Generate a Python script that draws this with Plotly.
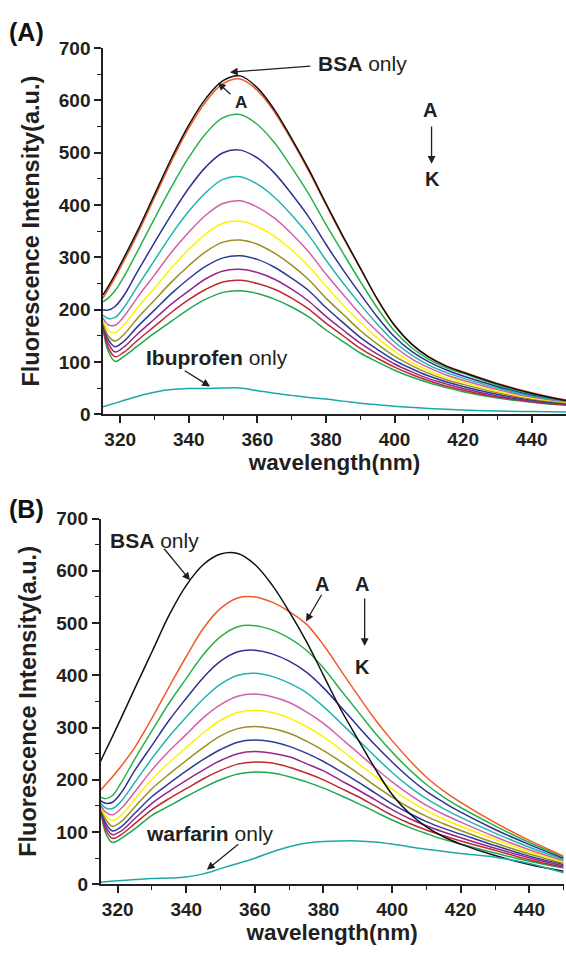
import plotly.graph_objects as go

# ---------------- data ----------------
W = [315, 316.5, 318.5, 321, 325, 330, 335, 340, 345, 350, 355, 360, 365,
     370, 375, 380, 385, 390, 395, 400, 405, 410, 415, 420, 430, 440, 450]

# Panel A  (BSA + ibuprofen), curves BSA only, A ... K
A_BSA = [228, 244, 267, 298, 350, 420, 490, 553, 604, 638, 647, 624, 582, 527, 468, 403, 340, 280, 220, 170, 134, 109, 92, 80, 58, 40, 26]
A_A = [222, 238, 261, 292, 344, 414, 484, 547, 598, 632, 641, 619, 578, 524, 465, 401, 338, 279, 219, 169, 134, 110, 93, 81, 59, 41, 27]
A_B = [215, 222, 236, 262, 311, 374, 435, 491, 537, 567, 573, 554, 519, 472, 421, 363, 308, 254, 203, 159, 127, 105, 89, 78, 56, 39, 26]
A_C = [200, 199, 206, 226, 272, 328, 382, 432, 473, 500, 505, 490, 461, 421, 377, 325, 276, 230, 186, 148, 120, 100, 85, 73, 53, 37, 26]
A_D = [189, 183, 185, 203, 244, 294, 344, 388, 424, 449, 454, 440, 415, 381, 342, 295, 251, 210, 172, 138, 113, 94, 80, 69, 50, 35, 25]
A_E = [184, 171, 170, 186, 223, 266, 310, 348, 381, 403, 408, 396, 375, 345, 310, 268, 229, 191, 158, 129, 106, 89, 75, 65, 47, 33, 24]
A_F = [180, 160, 156, 170, 203, 241, 280, 315, 345, 365, 369, 359, 340, 314, 283, 245, 209, 176, 146, 120, 99, 83, 70, 61, 44, 31, 23]
A_G = [176, 150, 140, 152, 183, 218, 253, 284, 311, 329, 333, 325, 308, 285, 257, 222, 191, 160, 134, 111, 93, 78, 66, 57, 41, 29, 22]
A_H = [172, 143, 129, 139, 167, 199, 231, 259, 283, 299, 303, 296, 281, 260, 236, 204, 175, 147, 124, 103, 87, 73, 62, 53, 38, 27, 20]
A_I = [169, 136, 119, 128, 153, 182, 211, 236, 259, 274, 277, 271, 258, 239, 216, 187, 161, 136, 115, 96, 81, 68, 58, 49, 35, 25, 19]
A_J = [166, 128, 110, 118, 141, 168, 195, 219, 239, 253, 256, 250, 239, 222, 201, 174, 150, 126, 107, 90, 76, 64, 54, 46, 33, 24, 18]
A_K = [163, 121, 101, 110, 130, 155, 178, 201, 220, 233, 236, 231, 220, 205, 186, 161, 139, 117, 100, 84, 71, 60, 51, 43, 31, 23, 17]
IBU_X = [315, 320, 325, 330, 335, 340, 345, 350, 355, 360, 365, 370, 375, 380, 385, 390, 395, 400, 410, 420, 430, 440, 450]
IBU_Y = [14, 24, 34, 42, 47, 49, 49, 50, 50, 45, 40, 36, 32, 29, 25, 21, 18, 15, 11, 8, 6, 5, 4]

# Panel B  (BSA + warfarin)
B_BSA = [235, 256, 283, 318, 375, 445, 515, 572, 612, 632, 633, 612, 573, 522, 465, 400, 335, 278, 222, 172, 136, 110, 91, 77, 55, 38, 25]
B_A = [180, 191, 206, 226, 262, 318, 378, 436, 490, 528, 548, 550, 540, 522, 498, 458, 410, 362, 316, 275, 238, 205, 179, 157, 118, 84, 54]
B_B = [167, 164, 170, 194, 240, 294, 347, 394, 440, 474, 493, 495, 487, 471, 448, 414, 372, 331, 290, 253, 220, 191, 167, 147, 112, 80, 52]
B_C = [160, 155, 157, 175, 218, 266, 314, 356, 396, 427, 445, 448, 441, 427, 406, 376, 340, 303, 267, 234, 204, 178, 157, 138, 105, 76, 50]
B_D = [155, 146, 145, 159, 195, 241, 283, 320, 355, 383, 400, 404, 398, 385, 367, 340, 309, 277, 245, 214, 187, 164, 145, 128, 98, 71, 48]
B_E = [152, 138, 133, 145, 177, 219, 255, 287, 319, 344, 360, 364, 359, 348, 330, 308, 280, 252, 223, 196, 172, 151, 134, 119, 91, 66, 45]
B_F = [150, 131, 122, 132, 163, 201, 233, 262, 290, 314, 329, 333, 329, 318, 302, 282, 258, 232, 207, 182, 160, 141, 125, 111, 86, 62, 43]
B_G = [148, 124, 111, 120, 148, 183, 211, 237, 262, 284, 298, 302, 298, 289, 274, 256, 235, 213, 189, 167, 147, 130, 116, 103, 79, 58, 40]
B_H = [147, 117, 102, 110, 136, 168, 193, 217, 239, 258, 272, 276, 273, 264, 251, 235, 216, 196, 175, 154, 136, 120, 107, 96, 74, 54, 38]
B_I = [147, 111, 95, 102, 126, 155, 178, 199, 219, 237, 250, 254, 251, 244, 231, 217, 199, 181, 162, 143, 126, 112, 100, 89, 69, 51, 35]
B_J = [147, 105, 88, 95, 116, 143, 164, 183, 202, 218, 230, 234, 232, 224, 213, 200, 184, 168, 150, 132, 117, 104, 93, 83, 65, 47, 33]
B_K = [147, 98, 80, 88, 106, 132, 150, 168, 185, 200, 211, 215, 213, 206, 196, 184, 170, 155, 139, 123, 109, 97, 86, 77, 60, 44, 31]
WARF_X = [315, 320, 325, 330, 335, 340, 345, 350, 355, 360, 365, 370, 375, 380, 385, 390, 395, 400, 410, 420, 430, 440, 450]
WARF_Y = [4, 7, 9, 11, 12, 14, 20, 30, 40, 50, 62, 72, 79, 82, 83, 83, 81, 77, 67, 59, 52, 40, 22]

COLORS = ["#111111", "#F15A29", "#27B24A", "#2E3192", "#1FB5B2", "#D160A8",
          "#FFF200", "#9A9021", "#2B3B98", "#93278F", "#C1272D", "#1FA84F"]
TEAL = "#1EA9A9"
INK = "#231F20"
FONT = "Liberation Sans, Arial, Helvetica, sans-serif"

A_SERIES = [A_BSA, A_A, A_B, A_C, A_D, A_E, A_F, A_G, A_H, A_I, A_J, A_K]
B_SERIES = [B_BSA, B_A, B_B, B_C, B_D, B_E, B_F, B_G, B_H, B_I, B_J, B_K]

fig = go.Figure()

def add_line(x, y, color, xa, ya):
    fig.add_trace(go.Scatter(x=x, y=y, mode="lines", xaxis=xa, yaxis=ya,
                             line=dict(color=color, width=1.5, shape="spline", smoothing=1.0),
                             showlegend=False, hoverinfo="skip"))

for ys, c in list(zip(A_SERIES, COLORS))[::-1]:
    add_line(W, ys, c, "x", "y")
add_line(IBU_X, IBU_Y, TEAL, "x", "y")
for ys, c in list(zip(B_SERIES, COLORS))[::-1]:
    add_line(W, ys, c, "x2", "y2")
add_line(WARF_X, WARF_Y, TEAL, "x2", "y2")

tickfont = dict(family=FONT, size=19, color=INK, weight="bold")
xtitlefont = dict(family=FONT, size=22.5, color=INK, weight="bold")
ytitlefont = dict(family=FONT, size=23.5, color=INK, weight="bold")

def xax(domain, anchor):
    return dict(domain=domain, anchor=anchor, range=[315, 450], tick0=320, dtick=20,
                ticks="outside", ticklen=7, tickwidth=1.5, tickcolor=INK,
                showline=True, linecolor=INK, linewidth=1.5, showgrid=False, zeroline=False,
                minor=dict(dtick=10, tick0=320, ticks="outside", ticklen=4, tickwidth=1.2, tickcolor=INK),
                tickfont=tickfont,
                title=dict(text="wavelength(nm)", font=xtitlefont, standoff=4))

def yax(domain, anchor):
    return dict(domain=domain, anchor=anchor, range=[0, 700], tick0=0, dtick=100,
                ticks="outside", ticklen=7, tickwidth=1.5, tickcolor=INK,
                showline=True, linecolor=INK, linewidth=1.5, showgrid=False, zeroline=False,
                minor=dict(dtick=50, ticks="outside", ticklen=4, tickwidth=1.2, tickcolor=INK),
                tickfont=tickfont,
                title=dict(text="Fluorescence Intensity(a.u.)", font=ytitlefont, standoff=13))

def arrow(xr, yr, x0, y0, x1, y1):
    return dict(x=x1, y=y1, ax=x0, ay=y0, xref=xr, yref=yr, axref=xr, ayref=yr,
                text="", showarrow=True, arrowhead=2, arrowsize=1.2, arrowwidth=1.3,
                arrowcolor=INK)

def label(xr, yr, x, y, text, size=21, xanchor="center"):
    return dict(x=x, y=y, xref=xr, yref=yr, text=text, showarrow=False,
                xanchor=xanchor, yanchor="middle",
                font=dict(family=FONT, size=size, color=INK))

annotations = [
    dict(x=0.046, y=0.9770, xref="paper", yref="paper", text="<b>(A)</b>", showarrow=False,
         xanchor="center", yanchor="middle", font=dict(family=FONT, size=25, color="#111111")),
    dict(x=0.047, y=0.4665, xref="paper", yref="paper", text="<b>(B)</b>", showarrow=False,
         xanchor="center", yanchor="middle", font=dict(family=FONT, size=25, color="#111111")),
    # panel A
    label("x", "y", 377.0, 671, "<b>BSA</b> only", 21, "left"),
    arrow("x", "y", 375.9, 666, 352.0, 654),
    label("x", "y", 355.2, 596, "<b>A</b>", 17),
    arrow("x", "y", 352.6, 609, 348.5, 634),
    label("x", "y", 410.4, 581, "<b>A</b>", 20),
    arrow("x", "y", 410.8, 553, 410.8, 479),
    label("x", "y", 411.0, 450, "<b>K</b>", 20),
    label("x", "y", 348.1, 109, "<b>Ibuprofen</b> only", 21),
    arrow("x", "y", 338.4, 85, 346.2, 53),
    # panel B
    label("x2", "y2", 330.6, 658, "<b>BSA</b> only", 21),
    arrow("x2", "y2", 333.2, 645, 341.1, 582),
    label("x2", "y2", 379.5, 574, "<b>A</b>", 20),
    arrow("x2", "y2", 379.7, 557, 374.9, 503),
    label("x2", "y2", 391.3, 574, "<b>A</b>", 20),
    arrow("x2", "y2", 392.0, 550, 392.0, 456),
    label("x2", "y2", 391.5, 415, "<b>K</b>", 20),
    label("x2", "y2", 346.9, 97, "<b>warfarin</b> only", 21),
    arrow("x2", "y2", 355.6, 79, 346.0, 28),
]

fig.update_layout(
    width=566, height=956, autosize=False, margin=dict(l=0, r=0, t=0, b=0, pad=0),
    paper_bgcolor="white", plot_bgcolor="white",
    xaxis=xax([0.182, 1.0], "y"),
    yaxis=yax([0.5677, 0.9592], "x"),
    xaxis2=xax([0.1776, 0.9958], "y2"),
    yaxis2=yax([0.0649, 0.4561], "x2"),
    annotations=annotations,
    font=dict(family=FONT, color=INK),
)

fig.write_html("out.html")
